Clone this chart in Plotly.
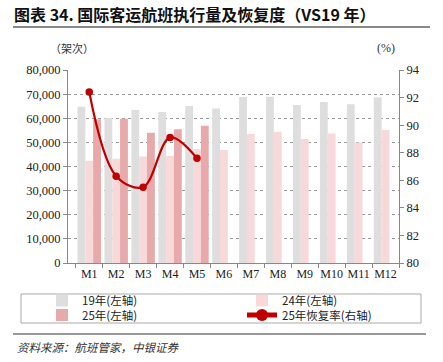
import plotly.graph_objects as go

months = ["M1", "M2", "M3", "M4", "M5", "M6", "M7", "M8", "M9", "M10", "M11", "M12"]
v19 = [64800, 60100, 63400, 62600, 65100, 64000, 68800, 68900, 65500, 66700, 65800, 68700]
v24 = [42400, 43200, 44100, 44400, 47200, 46800, 53500, 54400, 51400, 53700, 49900, 55100]
v25 = [59600, 59800, 54000, 55400, 56900]
rate25 = [92.4, 86.3, 85.5, 89.1, 87.6]

names = ["19年(左轴)", "24年(左轴)", "25年(左轴)", "25年恢复率(右轴)"]

serif = "Liberation Serif, Noto Serif CJK SC, Noto Sans CJK SC, serif"
cjk = "Noto Sans CJK SC, sans-serif"

fig = go.Figure()
fig.add_bar(x=months, y=v19, name=names[0], legend="legend", marker=dict(color="#dedede", line_width=0))
fig.add_bar(x=months, y=v24, name=names[1], legend="legend2", marker=dict(color="#f7d9d9", line_width=0))
fig.add_bar(x=months[:len(v25)], y=v25, name=names[2], legend="legend3", marker=dict(color="#e7a9a9", line_width=0))
fig.add_scatter(x=months[:len(rate25)], y=rate25, name=names[3], yaxis="y2", legend="legend4",
                mode="lines+markers", line=dict(color="#c00000", width=2.2, shape="spline", smoothing=1.0),
                marker=dict(color="#c00000", size=7.5))

legend_common = dict(orientation="v", yanchor="middle", xanchor="left",
                     font=dict(family=cjk, size=11.5, color="#222"),
                     bgcolor="rgba(0,0,0,0)", borderwidth=0, tracegroupgap=0,
                     itemsizing="constant")

def px_x(px):
    return (px - 68) / 331

def px_y(py):
    return (263 - py) / 193

fig.update_layout(
    width=443, height=362,
    margin=dict(l=68, r=44, t=70, b=99),
    paper_bgcolor="white", plot_bgcolor="white",
    barmode="group", bargap=0.13, bargroupgap=0,
    font=dict(family=serif, size=12, color="#222"),
    showlegend=True,
    legend=dict(x=px_x(42), y=px_y(300.5), **legend_common),
    legend2=dict(x=px_x(242), y=px_y(300.5), **legend_common),
    legend3=dict(x=px_x(42), y=px_y(315), **legend_common),
    legend4=dict(x=px_x(242), y=px_y(315), **legend_common),
    xaxis=dict(type="category", showline=True, linecolor="#888", linewidth=1, tickangle=0,
               ticks="outside", tickson="boundaries", ticklen=4, tickcolor="#888",
               tickfont=dict(family=serif, size=12, color="#222"), showgrid=False),
    yaxis=dict(range=[0, 80000], dtick=10000, tickformat=",", showline=True,
               linecolor="#888", linewidth=1, ticks="outside", ticklen=4, tickcolor="#888",
               showgrid=True, gridcolor="#9a9a9a", griddash="dot", gridwidth=1,
               tickfont=dict(family=serif, size=12.5, color="#222"), zeroline=False),
    yaxis2=dict(range=[80, 94], dtick=2, overlaying="y", side="right", showline=True,
                linecolor="#888", linewidth=1, ticks="outside", ticklen=4, tickcolor="#888",
                showgrid=False, zeroline=False,
                tickfont=dict(family=serif, size=12.5, color="#222")),
)

# title and decorations
fig.add_annotation(text="<b>图表 34. 国际客运航班执行量及恢复度（VS19 年）</b>", xref="paper", yref="paper",
                   x=px_x(12), y=px_y(14), xanchor="left", yanchor="middle", showarrow=False,
                   font=dict(family=cjk, size=16, color="#111"))
fig.add_shape(type="line", xref="paper", yref="paper", x0=px_x(13), x1=px_x(430),
              y0=px_y(27), y1=px_y(27), line=dict(color="#888", width=2))
fig.add_annotation(text="（架次）", xref="paper", yref="paper", x=px_x(48), y=px_y(48),
                   xanchor="left", yanchor="middle", showarrow=False, font=dict(family=cjk, size=11, color="#333"))
fig.add_annotation(text="(%)", xref="paper", yref="paper", x=px_x(397), y=px_y(48),
                   xanchor="right", yanchor="middle", showarrow=False, font=dict(family=serif, size=12, color="#333"))
# legend box
fig.add_shape(type="rect", xref="paper", yref="paper", x0=px_x(21), x1=px_x(421),
              y0=px_y(294), y1=px_y(323), line=dict(color="#aaa", width=1))
# source line
fig.add_shape(type="line", xref="paper", yref="paper", x0=px_x(13), x1=px_x(426),
              y0=px_y(334), y1=px_y(334), line=dict(color="#777", width=1.5))
fig.add_annotation(text="<i>资料来源：航班管家，中银证券</i>", xref="paper", yref="paper",
                   x=px_x(15), y=px_y(347), xanchor="left", yanchor="middle", showarrow=False,
                   font=dict(family=cjk, size=11.5, color="#333"))

fig.write_html("out.html", config={"displayModeBar": False},
               post_script="document.body.style.margin='0';")
